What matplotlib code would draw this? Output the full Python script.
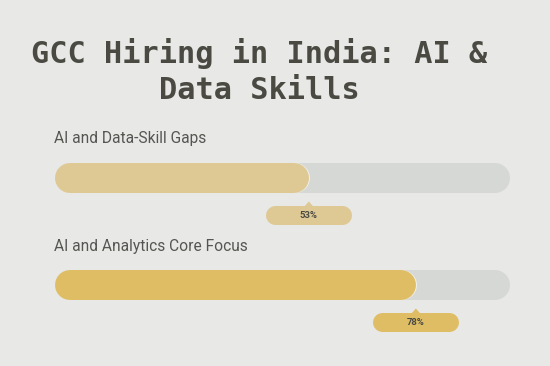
import matplotlib
matplotlib.use("Agg")
import matplotlib.pyplot as plt
from matplotlib.patches import Polygon

# data
labels = ["AI and Data-Skill Gaps", "AI and Analytics Core Focus"]
values = [53, 78]
value_text = ["53%", "78%"]
fill_colors = ["#dec893", "#dfbd65"]

title_lines = ["GCC Hiring in India: AI &", "Data Skills"]

bg = "#e8e8e6"
track_color = "#d6d8d5"
text_color = "#555551"
title_color = "#4a4a43"

W, H = 550, 366
fig = plt.figure(figsize=(W / 100, H / 100), dpi=100, facecolor=bg)
ax = fig.add_axes([0, 0, 1, 1])
ax.set_facecolor(bg)

# x in percent, y in pixels from the top
px_per_pct = 4.28
x0_px = 82
ax.set_xlim(-x0_px / px_per_pct, (W - x0_px) / px_per_pct)
ax.set_ylim(H, 0)
ax.axis("off")

def px(n):
    # pixel length -> x data units
    return n / px_per_pct

pt = 72 / 100  # points per pixel
track_start = px(54.5 - x0_px)
bar_h = 30
bar_mid = [177.5, 284.5]
label_base = [143.5, 250.5]

for i, (lab, v) in enumerate(zip(labels, values)):
    y = bar_mid[i]
    ax.text(track_start, label_base[i], lab, fontsize=11.2, color=text_color,
            family="Roboto", va="baseline", ha="left")
    # track + fill drawn as round-capped thick lines
    ax.plot([track_start + px(15), 100 - px(15)], [y, y], lw=bar_h * pt,
            color=track_color, solid_capstyle="round")
    ax.plot([track_start + px(15), v - px(13.5)], [y, y], lw=bar_h * pt,
            color="#f2f1ec", solid_capstyle="round")
    ax.plot([track_start + px(15), v - px(15)], [y, y], lw=bar_h * pt,
            color=fill_colors[i], solid_capstyle="round")

    # tooltip under the fill end
    tip_top = y + bar_h / 2 + 13
    box_h = 19
    ax.plot([v - px(43 - 9.5), v + px(43 - 9.5)], [tip_top + box_h / 2] * 2,
            lw=box_h * pt, color=fill_colors[i], solid_capstyle="round")
    ax.add_patch(Polygon([(v - px(4), tip_top + 0.5), (v + px(4), tip_top + 0.5),
                          (v, tip_top - 4)], closed=True, fc=fill_colors[i], ec="none"))
    ax.text(v, tip_top + box_h / 2 + 0.5, value_text[i], fontsize=6.8, fontweight="bold",
            color="#4a4a43", family="Roboto", ha="center", va="center")

fig.text(259.5 / W, 1 - 63 / H, title_lines[0], ha="center", va="baseline",
         fontsize=21.8, fontweight="bold", family="DejaVu Sans Mono", color=title_color)
fig.text(259.5 / W, 1 - 99 / H, title_lines[1], ha="center", va="baseline",
         fontsize=21.8, fontweight="bold", family="DejaVu Sans Mono", color=title_color)

fig.savefig("out.png", dpi=100, facecolor=bg)
